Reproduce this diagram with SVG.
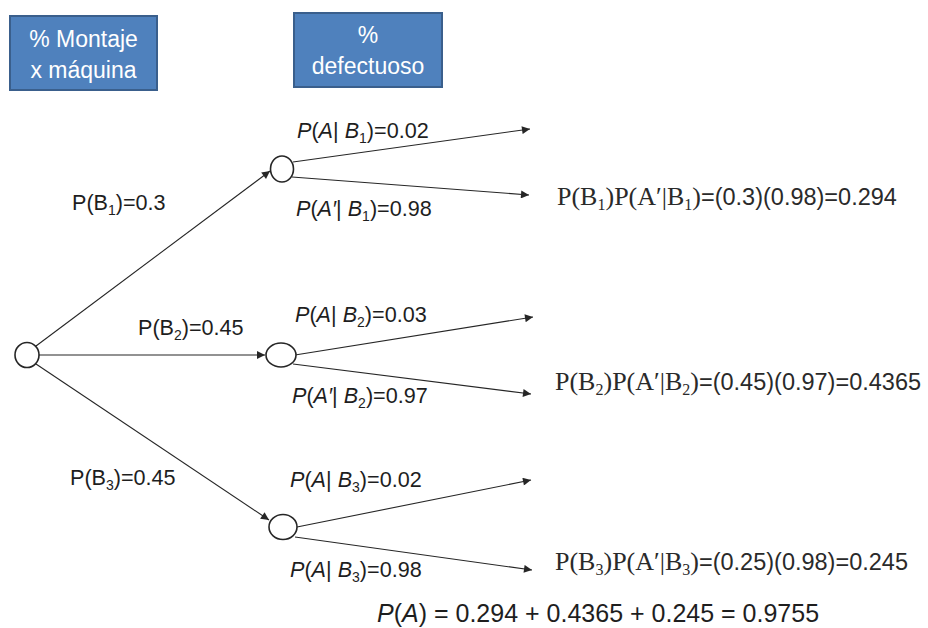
<svg xmlns="http://www.w3.org/2000/svg" width="928" height="628" viewBox="0 0 928 628">
  <style>
    .hdr rect { fill: #4F81BD; stroke: #3A5F8C; stroke-width: 2; }
    .hdr text { font-family: "Liberation Sans", Arial, sans-serif; font-size: 23px; fill: #ffffff; text-anchor: middle; }
    .node { fill: #ffffff; stroke: #262626; stroke-width: 1.6; }
    .edge { stroke: #262626; stroke-width: 1.1; fill: none; marker-end: url(#arrow); }
    .lbl { font-family: "Liberation Sans", Arial, sans-serif; font-size: 21.6px; fill: #1e1e1e; }
    .it { font-style: italic; }
    .sub { font-size: 14px; }
    .math { font-family: "Liberation Serif", "Times New Roman", serif; font-size: 26px; fill: #2a2a2a; }
    .math .sub { font-size: 16px; }
    .num { font-family: "Liberation Sans", Arial, sans-serif; font-size: 23.5px; fill: #2a2a2a; }
    .total { font-family: "Liberation Sans", Arial, sans-serif; font-size: 25px; fill: #1e1e1e; }
  </style>
  <defs>
    <marker id="arrow" viewBox="0 0 10 10" refX="10" refY="5" markerWidth="10" markerHeight="8" markerUnits="userSpaceOnUse" orient="auto">
      <path d="M0,0 L10,5 L0,10 Z" fill="#262626"/>
    </marker>
  </defs>

  <!-- column headers -->
  <g id="hdr-montaje" class="hdr">
    <rect x="10" y="16" width="147" height="74"/>
    <text x="83.5" y="47">% Montaje</text>
    <text x="83.5" y="78">x máquina</text>
  </g>
  <g id="hdr-defectuoso" class="hdr">
    <rect x="294" y="13" width="148" height="74"/>
    <text x="368" y="43">%</text>
    <text x="368" y="74">defectuoso</text>
  </g>

  <!-- connectors -->
  <g id="connectors">
    <line class="edge" x1="36" y1="346" x2="270" y2="171"/>
    <line class="edge" x1="39" y1="355" x2="265" y2="355"/>
    <line class="edge" x1="36" y1="364" x2="269" y2="520"/>

    <line class="edge" x1="293" y1="162" x2="530" y2="129"/>
    <line class="edge" x1="292" y1="177" x2="529" y2="195"/>

    <line class="edge" x1="295" y1="355" x2="533" y2="317"/>
    <line class="edge" x1="293" y1="364" x2="531" y2="394"/>

    <line class="edge" x1="297" y1="527" x2="531" y2="480"/>
    <line class="edge" x1="295" y1="537" x2="532" y2="570"/>
  </g>

  <!-- nodes -->
  <g id="root"><ellipse class="node" cx="27" cy="355" rx="12" ry="12.5"/></g>
  <g id="b1"><ellipse class="node" cx="282" cy="169" rx="11.5" ry="13"/></g>
  <g id="b2"><ellipse class="node" cx="281" cy="355" rx="15" ry="12"/></g>
  <g id="b3"><ellipse class="node" cx="283" cy="527" rx="14" ry="12.5"/></g>

  <!-- branch probabilities -->
  <g id="labels">
    <text class="lbl" x="72" y="210">P(B<tspan class="sub" dy="5">1</tspan><tspan dy="-5">)=0.3</tspan></text>
    <text class="lbl" x="138" y="335">P(B<tspan class="sub" dy="5">2</tspan><tspan dy="-5">)=0.45</tspan></text>
    <text class="lbl" x="70" y="485">P(B<tspan class="sub" dy="5">3</tspan><tspan dy="-5">)=0.45</tspan></text>

    <text class="lbl" x="297" y="138"><tspan class="it">P</tspan>(<tspan class="it">A</tspan>| <tspan class="it">B</tspan><tspan class="sub" dy="5">1</tspan><tspan dy="-5">)=0.02</tspan></text>
    <text class="lbl" x="296" y="216"><tspan class="it">P</tspan>(<tspan class="it">A′</tspan>| <tspan class="it">B</tspan><tspan class="sub" dy="5">1</tspan><tspan dy="-5">)=0.98</tspan></text>

    <text class="lbl" x="295" y="322"><tspan class="it">P</tspan>(<tspan class="it">A</tspan>| <tspan class="it">B</tspan><tspan class="sub" dy="5">2</tspan><tspan dy="-5">)=0.03</tspan></text>
    <text class="lbl" x="292" y="403"><tspan class="it">P</tspan>(<tspan class="it">A′</tspan>| <tspan class="it">B</tspan><tspan class="sub" dy="5">2</tspan><tspan dy="-5">)=0.97</tspan></text>

    <text class="lbl" x="290" y="487"><tspan class="it">P</tspan>(<tspan class="it">A</tspan>| <tspan class="it">B</tspan><tspan class="sub" dy="5">3</tspan><tspan dy="-5">)=0.02</tspan></text>
    <text class="lbl" x="290" y="577"><tspan class="it">P</tspan>(<tspan class="it">A</tspan>| <tspan class="it">B</tspan><tspan class="sub" dy="5">3</tspan><tspan dy="-5">)=0.98</tspan></text>
  </g>

  <!-- path products -->
  <g id="results">
    <text class="math" x="557" y="205">P(B<tspan class="sub" dy="5">1</tspan><tspan dy="-5">)P(A′|B</tspan><tspan class="sub" dy="5">1</tspan><tspan dy="-5">)</tspan><tspan class="num">=(0.3)(0.98)=0.294</tspan></text>
    <text class="math" x="555" y="390">P(B<tspan class="sub" dy="5">2</tspan><tspan dy="-5">)P(A′|B</tspan><tspan class="sub" dy="5">2</tspan><tspan dy="-5">)</tspan><tspan class="num">=(0.45)(0.97)=0.4365</tspan></text>
    <text class="math" x="555" y="570">P(B<tspan class="sub" dy="5">3</tspan><tspan dy="-5">)P(A′|B</tspan><tspan class="sub" dy="5">3</tspan><tspan dy="-5">)</tspan><tspan class="num">=(0.25)(0.98)=0.245</tspan></text>
    <text class="total" x="377" y="622"><tspan class="it">P</tspan>(<tspan class="it">A</tspan>) = 0.294 + 0.4365 + 0.245 = 0.9755</text>
  </g>
</svg>
